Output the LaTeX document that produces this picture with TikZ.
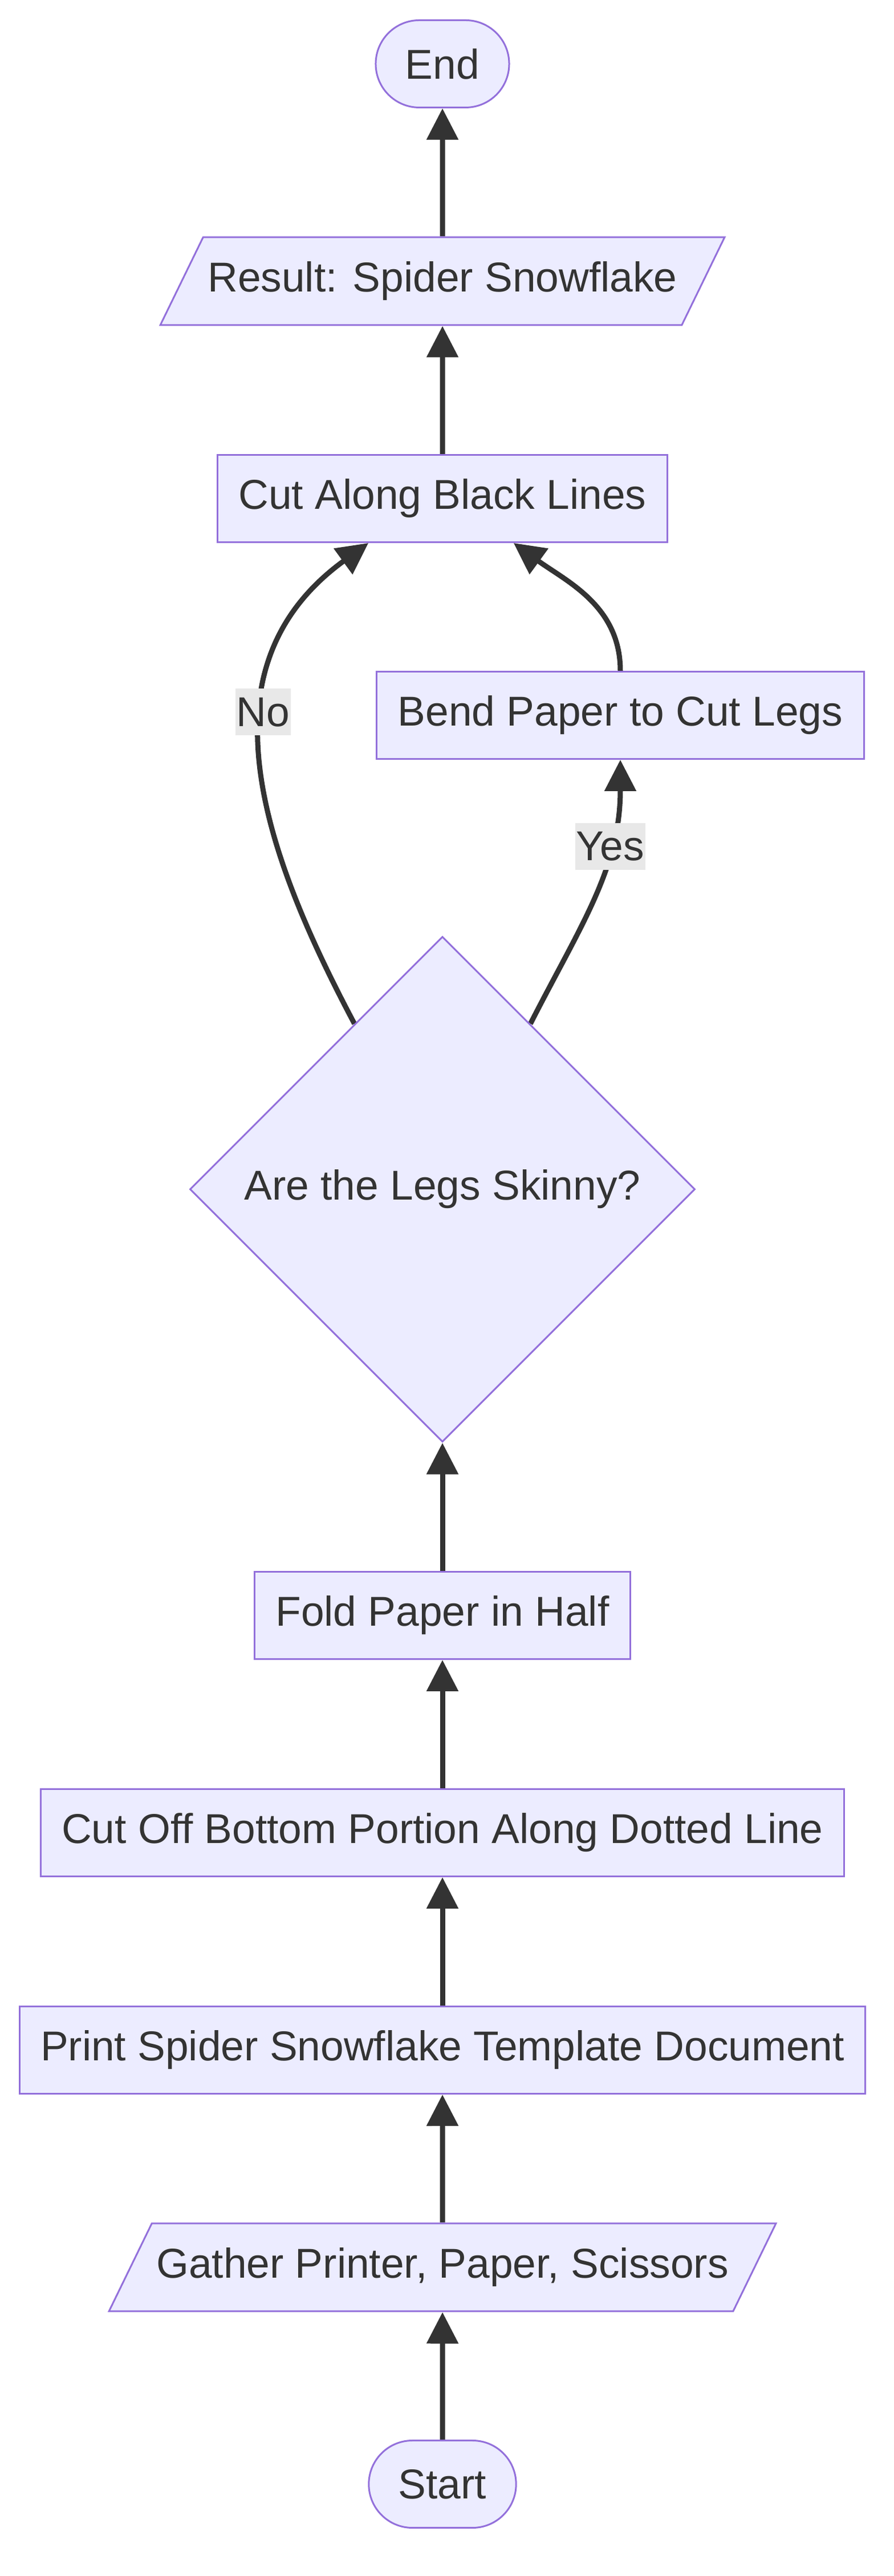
\documentclass[tikz,border=0pt]{standalone}
\usepackage{fontspec}
\setmainfont{Liberation Sans}
\usetikzlibrary{shapes.geometric,arrows.meta,backgrounds}
\definecolor{boxfill}{HTML}{ECECFF}
\definecolor{boxline}{HTML}{9370DB}
\definecolor{ink}{HTML}{333333}
\definecolor{lblfill}{HTML}{E8E8E8}
\tikzset{
    base/.style={draw=boxline, fill=boxfill, line width=0.03cm, text=ink, font=\fontsize{20.8}{25}\selectfont, minimum height=1.53cm},
    stepbox/.style={base, rectangle, inner xsep=0.37cm},
    terminal/.style={base, rectangle, rounded corners=0.765cm, inner xsep=0.52cm},
    inout/.style={base, trapezium, trapezium left angle=64, trapezium right angle=116, trapezium stretches body=true,
        minimum height=0pt, text height=0.55cm, text depth=0.17cm, inner ysep=0.41cm, inner xsep=0.08cm},
    decision/.style={base, diamond, aspect=1, inner sep=0pt, minimum size=8.86cm},
    flow/.style={draw=ink, line width=0.09cm, -{Triangle[length=0.55cm,width=0.54cm]}},
    answer/.style={fill=lblfill, text=ink, font=\fontsize{20.8}{25}\selectfont, inner xsep=0.02cm, inner ysep=0pt, minimum height=0.82cm}
}
\begin{document}
\begin{tikzpicture}
    \useasboundingbox (0,0) rectangle (15.68,45.16);
    \node[terminal] (start) at (7.76,1.61) {Start};
    \node[inout] (gather) at (7.76,5.41) {Gather Printer, Paper, Scissors};
    \node[stepbox] (print) at (7.76,9.22) {Print Spider Snowflake Template Document};
    \node[stepbox] (cutoff) at (7.76,13.03) {Cut Off Bottom Portion Along Dotted Line};
    \node[stepbox] (fold) at (7.76,16.84) {Fold Paper in Half};
    \node[decision] (legs) at (7.76,24.31) {Are the Legs Skinny?};
    \node[stepbox] (bend) at (10.88,32.62) {Bend Paper to Cut Legs};
    \node[stepbox] (cut) at (7.76,36.42) {Cut Along Black Lines};
    \node[inout] (result) at (7.76,40.23) {Result: Spider Snowflake};
    \node[terminal] (endnode) at (7.76,44.04) {End};
    \begin{scope}[on background layer] % arrows go under the boxes
    \draw[flow] (start) -- (gather);
    \draw[flow] (gather) -- (print);
    \draw[flow] (print) -- (cutoff);
    \draw[flow] (cutoff) -- (fold);
    \draw[flow] (fold) -- (legs);
    \draw[flow] (legs.62) to[out=63,in=-90] node[answer,pos=0.7] (yes) {Yes} (bend); % Yes branch
    \draw[flow] (legs.118) to[out=118,in=216,looseness=1.1] node[answer,pos=0.6] (no) {No} (cut.211.4); % No branch
    \draw[flow] (bend) to[out=90,in=-36] (cut.328.6);
    \draw[flow] (cut) -- (result);
    \draw[flow] (result) -- (endnode);
    \end{scope}
\end{tikzpicture}
\end{document}
